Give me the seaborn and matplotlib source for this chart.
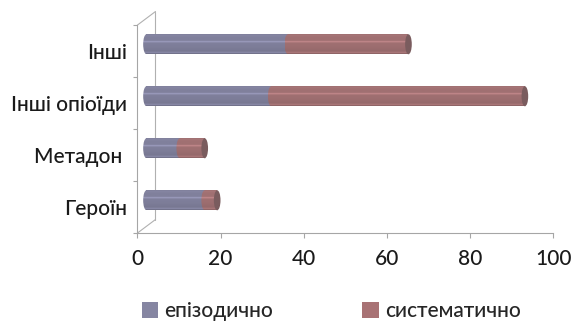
import numpy as np
import pandas as pd
import seaborn as sns
import matplotlib
matplotlib.use("Agg")
import matplotlib.pyplot as plt
from matplotlib.transforms import ScaledTranslation
from matplotlib.patches import Ellipse, Patch
from matplotlib.lines import Line2D
from matplotlib.colors import to_rgb, LinearSegmentedColormap

# Data
categories = ["Інші", "Інші опіоїди", "Метадон ", "Героїн"]
episodic = [34, 30, 8, 14]
systematic = [29, 61, 6, 3]
series_names = ["епізодично", "систематично"]
x_ticks = [0, 20, 40, 60, 80, 100]

EPI = "#80809c"
SYS = "#a07072"
SYS_CAP = "#7a5c5e"
FRAME = "#b0b0b0"

sns.set_theme(style="white")
plt.rcParams["font.family"] = ["Lato", "DejaVu Sans"]
plt.rcParams["font.weight"] = "medium"
FS = 15

df = pd.DataFrame({"category": categories, "episodic": episodic, "systematic": systematic})
df["total"] = df["episodic"] + df["systematic"]

fig = plt.figure(figsize=(5.71, 3.21), dpi=100)
ax = fig.add_axes([0.2408, 0.2741, 0.7282, 0.648])

BAR_H = 0.385
sns.barplot(data=df, y="category", x="total", order=categories, color=SYS,
            width=BAR_H, saturation=1, errorbar=None, orient="h", ax=ax)
n_sys = len(ax.patches)
sns.barplot(data=df, y="category", x="episodic", order=categories, color=EPI,
            width=BAR_H, saturation=1, errorbar=None, orient="h", ax=ax)

# depth offset: bars sit midway between the front plane and the back wall
depth = (0.18, 0.135)  # inches (full depth)
off = ax.transData + ScaledTranslation(depth[0] / 2, depth[1] / 2, fig.dpi_scale_trans)


def cylinder_cmap(color):
    r, g, b = to_rgb(color)
    prof = [(0.0, 0.88), (0.08, 1.05), (0.2, 1.0), (0.36, 1.0), (0.41, 1.28),
            (0.46, 1.0), (0.7, 0.97), (0.88, 0.93), (0.93, 1.12), (1.0, 0.82)]
    cols = [(p, tuple(min(1, c * f) for c in (r, g, b))) for p, f in prof]
    return LinearSegmentedColormap.from_list("cyl", cols)


grad = np.linspace(0, 1, 64).reshape(-1, 1)


def shade(patch, color, z):
    """Fill a patch with a vertical cylinder gradient."""
    if isinstance(patch, Ellipse):
        cx, cy = patch.center
        left, right = cx - patch.width / 2, cx + patch.width / 2
        top, bottom = cy - patch.height / 2, cy + patch.height / 2
    else:
        left, right = patch.get_x(), patch.get_x() + patch.get_width()
        top, bottom = patch.get_y(), patch.get_y() + patch.get_height()
    im = ax.imshow(grad, extent=(left, right, bottom, top), origin="upper",
                   aspect="auto", cmap=cylinder_cmap(color), transform=off,
                   zorder=z, interpolation="bilinear")
    im.set_clip_path(patch)


cap_w = 1.6  # data units along x
for i, p in enumerate(ax.patches[:]):
    p.set_transform(off)
    p.set_clip_on(False)
    p.set_edgecolor("none")
    yc = p.get_y() + p.get_height() / 2
    if i < n_sys:
        p.set_zorder(2)
        shade(p, SYS, 2.1)
        # front end cap of the whole bar
        cap = Ellipse((p.get_width(), yc), cap_w, BAR_H, transform=off,
                      facecolor=SYS_CAP, edgecolor="none", zorder=4, clip_on=False)
        ax.add_patch(cap)
    else:
        p.set_zorder(3)
        shade(p, EPI, 3.1)
        left_cap = Ellipse((0, yc), cap_w, BAR_H, transform=off,
                           facecolor=EPI, edgecolor="none", zorder=1, clip_on=False)
        ax.add_patch(left_cap)
        shade(left_cap, EPI, 3.05)
        left_cap.set_visible(False)
        seam = Ellipse((p.get_width(), yc), cap_w, BAR_H, transform=off,
                       facecolor=SYS, edgecolor="none", zorder=1, clip_on=False)
        ax.add_patch(seam)
        shade(seam, SYS, 3.2)
        seam.set_visible(False)

ax.set_xlim(0, 100)
ax.set_ylim(len(categories) - 0.5, -0.5)
ax.set_xticks(x_ticks)
ax.set_xticklabels([str(t) for t in x_ticks])
ax.set_yticks(range(len(categories)))
ax.set_yticklabels(categories, va="center_baseline")
ax.set_yticks(np.arange(-0.5, len(categories)), minor=True)
ax.set_xlabel("")
ax.set_ylabel("")

for s in ["top", "right"]:
    ax.spines[s].set_visible(False)
for s in ["left", "bottom"]:
    ax.spines[s].set_color("#a6a6a6")
    ax.spines[s].set_linewidth(0.8)

ax.tick_params(axis="y", which="major", length=0, pad=7.2, labelsize=FS, labelcolor="#1a1a1a")
ax.tick_params(axis="y", which="minor", length=3.2, width=0.8, color="#a6a6a6", direction="out", left=True)
ax.tick_params(axis="x", which="major", length=3.6, width=0.8, color="#a6a6a6", direction="out",
               bottom=True, pad=8, labelsize=FS, labelcolor="#1a1a1a")

# side wall and floor edges of the 3D frame
wall = ax.transAxes + ScaledTranslation(depth[0], depth[1], fig.dpi_scale_trans)
ax.add_line(Line2D([0, 0], [0, 1], transform=wall, color=FRAME, lw=0.8, clip_on=False, zorder=0.5))
for yy in (0, 1):
    corner = ax.transAxes.transform((0, yy)) / fig.dpi
    ax.add_line(Line2D([0, depth[0]], [0, depth[1]], color=FRAME, lw=0.8, clip_on=False, zorder=0.5,
                       transform=fig.dpi_scale_trans + ScaledTranslation(corner[0], corner[1],
                                                                          fig.dpi_scale_trans)))

handles = [Patch(facecolor="#8686a2", edgecolor="none"), Patch(facecolor="#a87274", edgecolor="none")]
fig.legend(handles, series_names, loc="center", bbox_to_anchor=(0.58, 0.03), ncol=2, frameon=False,
           fontsize=FS, handlelength=0.77, handleheight=0.77, handletextpad=0.3, columnspacing=4.3)

fig.savefig("out.png", dpi=100)
